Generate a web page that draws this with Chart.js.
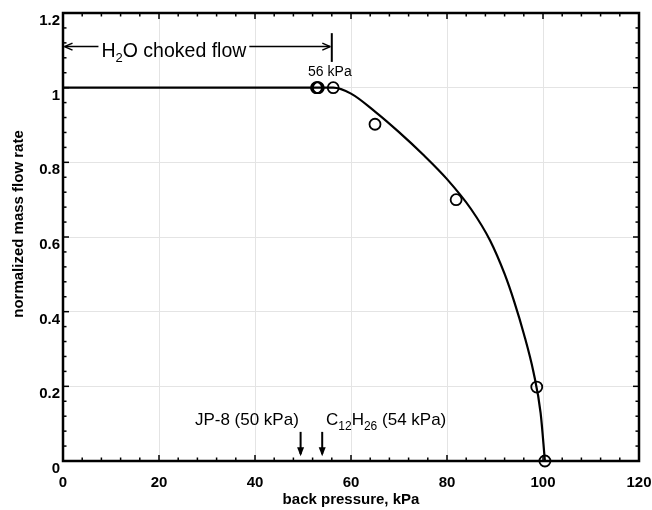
<!DOCTYPE html>
<html>
<head>
<meta charset="utf-8">
<script src="https://cdn.jsdelivr.net/npm/chart.js@4"></script>
<style>
  html, body { margin: 0; padding: 0; background: #fff; }
</style>
</head>
<body>
<canvas id="chart" width="652" height="510"></canvas>
<script>
// fitted curve
const curvePressure = [0, 56.3, 60, 65, 70, 75, 80, 85, 89, 92, 94, 96, 98, 99.5, 100.4];
const curveFlow = [1, 1, 0.984, 0.936, 0.881, 0.821, 0.755, 0.675, 0.59, 0.501, 0.427, 0.341, 0.239, 0.129, 0];

// measured points
const measPressure = [52.8, 53.0, 53.2, 56.3, 65, 81.9, 98.7, 100.4];
const measFlow = [1, 1, 1, 1, 0.902, 0.70, 0.198, 0];

const xTicks = [0, 20, 40, 60, 80, 100, 120];
const yTicks = [0, 0.2, 0.4, 0.6, 0.8, 1, 1.2];
const yTickLabels = ["0", "0.2", "0.4", "0.6", "0.8", "1", "1.2"];

const xTitle = "back pressure, kPa";
const yTitle = "normalized mass flow rate";

// annotations, in data coordinates
const chokedEnd = 56;
const chokedY = 1.11;
const chokedText = [{ t: "H" }, { t: "2", sub: true }, { t: "O choked flow" }];
const chokedTextX = 23.1;
const onsetText = "56 kPa";
const jpText = [{ t: "JP-8 (50 kPa)" }];
const jpArrowX = 49.5;
const dodText = [{ t: "C" }, { t: "12", sub: true }, { t: "H" }, { t: "26", sub: true }, { t: " (54 kPa)" }];
const dodArrowX = 54;

const FONT = "'Liberation Sans', Arial, Helvetica, sans-serif";

function richWidth(ctx, parts, size, subSize) {
  let w = 0;
  parts.forEach(p => {
    ctx.font = (p.sub ? subSize : size) + "px " + FONT;
    w += ctx.measureText(p.t).width;
  });
  return w;
}

function drawRich(ctx, parts, x, y, size, subSize, drop) {
  let cx = x;
  parts.forEach(p => {
    ctx.font = (p.sub ? subSize : size) + "px " + FONT;
    ctx.fillText(p.t, cx, p.sub ? y + drop : y);
    cx += ctx.measureText(p.t).width;
  });
}

function seg(ctx, x1, y1, x2, y2) {
  ctx.beginPath();
  ctx.moveTo(x1, y1);
  ctx.lineTo(x2, y2);
  ctx.stroke();
}

const extras = {
  id: "extras",
  afterDraw(chart) {
    const { ctx, chartArea: a, scales: { x, y } } = chart;
    ctx.save();
    ctx.strokeStyle = "#000";
    ctx.fillStyle = "#000";
    ctx.lineCap = "butt";

    // inward ticks on all four sides
    ctx.lineWidth = 1.5;
    for (let i = 0; i <= 30; i++) {
      const len = i % 5 === 0 ? 6 : 3.5;
      const px = x.getPixelForValue(i * 4);
      seg(ctx, px, a.bottom, px, a.bottom - len);
      seg(ctx, px, a.top, px, a.top + len);
      const py = y.getPixelForValue(i * 0.04);
      seg(ctx, a.left, py, a.left + len, py);
      seg(ctx, a.right, py, a.right - len, py);
    }

    // frame
    ctx.lineWidth = 2.5;
    ctx.strokeRect(a.left, a.top, a.right - a.left, a.bottom - a.top);

    // y axis title
    ctx.save();
    ctx.translate(19, (a.top + a.bottom) / 2 - 13);
    ctx.rotate(-Math.PI / 2);
    ctx.font = "bold 15px " + FONT;
    ctx.textAlign = "center";
    ctx.textBaseline = "middle";
    ctx.fillText(yTitle, 0, 0);
    ctx.restore();

    // H2O choked flow bracket
    ctx.lineWidth = 1.5;
    const ly = y.getPixelForValue(chokedY);
    const x0 = x.getPixelForValue(0) + 1.5;
    const x1 = x.getPixelForValue(chokedEnd) - 1.5;
    const tw = richWidth(ctx, chokedText, 19.5, 13);
    const tx = x.getPixelForValue(chokedTextX) - tw / 2;
    ctx.textBaseline = "alphabetic";
    ctx.textAlign = "left";
    drawRich(ctx, chokedText, tx, ly + 10, 19.5, 13, 5);
    seg(ctx, x0, ly, tx - 3, ly);
    seg(ctx, tx + tw + 3, ly, x1, ly);
    seg(ctx, x0, ly, x0 + 8, ly - 3.5);
    seg(ctx, x0, ly, x0 + 8, ly + 3.5);
    seg(ctx, x1, ly, x1 - 8, ly - 3.5);
    seg(ctx, x1, ly, x1 - 8, ly + 3.5);
    const vx = x.getPixelForValue(chokedEnd);
    ctx.lineWidth = 2;
    seg(ctx, vx, y.getPixelForValue(1.146), vx, y.getPixelForValue(1.069));

    // 56 kPa label
    ctx.font = "14px " + FONT;
    ctx.textAlign = "center";
    ctx.fillText(onsetText, x.getPixelForValue(55.6), y.getPixelForValue(1.031));

    // fuel labels and arrows
    ctx.textAlign = "left";
    const by = y.getPixelForValue(0.096);
    const jw = richWidth(ctx, jpText, 17, 12);
    drawRich(ctx, jpText, x.getPixelForValue(38.3) - jw / 2, by, 17, 12, 5);
    drawRich(ctx, dodText, x.getPixelForValue(54.8), by, 17, 12, 5);

    [jpArrowX, dodArrowX].forEach(v => {
      const ax = x.getPixelForValue(v);
      const top = y.getPixelForValue(0.078);
      const tip = y.getPixelForValue(0.013);
      ctx.lineWidth = 2;
      seg(ctx, ax, top, ax, tip - 2);
      ctx.beginPath();
      ctx.moveTo(ax, tip);
      ctx.lineTo(ax - 3.5, tip - 9);
      ctx.lineTo(ax + 3.5, tip - 9);
      ctx.closePath();
      ctx.fill();
    });

    ctx.restore();
  }
};

new Chart(document.getElementById("chart"), {
  type: "scatter",
  data: {
    datasets: [
      {
        label: "fit",
        data: curvePressure.map((p, i) => ({ x: p, y: curveFlow[i] })),
        showLine: true,
        borderColor: "#000",
        borderWidth: 2.2,
        pointRadius: 0,
        cubicInterpolationMode: "monotone",
        fill: false
      },
      {
        label: "measured",
        data: measPressure.map((p, i) => ({ x: p, y: measFlow[i] })),
        pointStyle: "circle",
        pointRadius: 5.5,
        pointBorderWidth: 1.8,
        borderColor: "#000",
        backgroundColor: "rgba(0,0,0,0)",
        pointBackgroundColor: "rgba(0,0,0,0)",
        pointBorderColor: "#000"
      }
    ]
  },
  options: {
    responsive: false,
    animation: false,
    clip: false,
    layout: { padding: { top: 13, right: 13, left: 0, bottom: 0 } },
    plugins: { legend: { display: false }, tooltip: { enabled: false } },
    scales: {
      x: {
        type: "linear",
        min: 0,
        max: 120,
        afterBuildTicks: s => { s.ticks = xTicks.map(v => ({ value: v })); },
        afterFit: s => { s.height = 49; s.paddingLeft = 0; s.paddingRight = 0; },
        grid: { color: "#e4e4e4", lineWidth: 1, drawTicks: false },
        border: { display: false },
        ticks: {
          color: "#000",
          padding: 13,
          maxRotation: 0,
          font: { family: FONT, size: 15, weight: "bold" }
        },
        title: {
          display: true,
          text: xTitle,
          color: "#000",
          padding: { top: 0, bottom: 1 },
          font: { family: FONT, size: 15, weight: "bold" }
        }
      },
      y: {
        type: "linear",
        min: 0,
        max: 1.2,
        afterBuildTicks: s => { s.ticks = yTicks.map(v => ({ value: v })); },
        afterFit: s => { s.width = 63; s.paddingTop = 0; s.paddingBottom = 0; },
        grid: { color: "#e4e4e4", lineWidth: 1, drawTicks: false },
        border: { display: false },
        ticks: {
          color: "#000",
          padding: 3,
          labelOffset: 8,
          callback: (v, i) => yTickLabels[i],
          font: { family: FONT, size: 15, weight: "bold" }
        }
      }
    }
  },
  plugins: [extras]
});
</script>
</body>
</html>
